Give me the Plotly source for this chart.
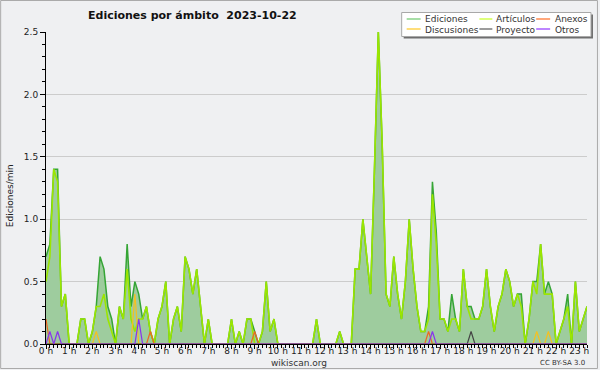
import plotly.graph_objects as go

# time of each sample, minutes after midnight (10-minute bins, 0:00 .. 23:20)
minutes = list(range(0, 1410, 10))

# edits per minute, one row per hour (6 bins)
ediciones = [
    0.7, 0.8, 1.4, 1.4, 0.3, 0.4,   # 0 h
    0.0, 0.0, 0.0, 0.2, 0.2, 0.0,   # 1 h
    0.1, 0.3, 0.7, 0.6, 0.3, 0.2,   # 2 h
    0.0, 0.3, 0.2, 0.8, 0.3, 0.5,   # 3 h
    0.4, 0.2, 0.3, 0.1, 0.0, 0.2,   # 4 h
    0.3, 0.5, 0.0, 0.2, 0.3, 0.1,   # 5 h
    0.7, 0.6, 0.4, 0.6, 0.3, 0.0,   # 6 h
    0.2, 0.0, 0.0, 0.0, 0.0, 0.0,   # 7 h
    0.2, 0.0, 0.1, 0.0, 0.2, 0.2,   # 8 h
    0.1, 0.0, 0.1, 0.5, 0.1, 0.2,   # 9 h
    0.0, 0.0, 0.0, 0.0, 0.0, 0.0,   # 10 h
    0.0, 0.0, 0.0, 0.0, 0.2, 0.0,   # 11 h
    0.0, 0.0, 0.0, 0.0, 0.1, 0.0,   # 12 h
    0.0, 0.0, 0.6, 0.6, 1.0, 0.7,   # 13 h
    0.4, 1.4, 2.5, 1.6, 0.4, 0.3,   # 14 h
    0.7, 0.4, 0.2, 0.5, 1.0, 0.6,   # 15 h
    0.3, 0.1, 0.1, 0.3, 1.3, 0.9,   # 16 h
    0.2, 0.2, 0.1, 0.4, 0.2, 0.1,   # 17 h
    0.6, 0.3, 0.3, 0.2, 0.2, 0.3,   # 18 h
    0.6, 0.3, 0.1, 0.3, 0.4, 0.6,   # 19 h
    0.5, 0.3, 0.4, 0.4, 0.0, 0.2,   # 20 h
    0.5, 0.5, 0.8, 0.4, 0.5, 0.4,   # 21 h
    0.0, 0.1, 0.2, 0.4, 0.0, 0.5,   # 22 h
    0.1, 0.2, 0.3,                  # 23 h
]

articulos = [
    0.5, 0.7, 1.4, 1.3, 0.3, 0.4,
    0.0, 0.0, 0.0, 0.2, 0.2, 0.0,
    0.1, 0.3, 0.3, 0.4, 0.2, 0.1,
    0.0, 0.3, 0.2, 0.6, 0.2, 0.1,
    0.2, 0.2, 0.3, 0.1, 0.0, 0.2,
    0.3, 0.5, 0.0, 0.2, 0.3, 0.1,
    0.7, 0.6, 0.4, 0.6, 0.3, 0.0,
    0.2, 0.0, 0.0, 0.0, 0.0, 0.0,
    0.2, 0.0, 0.1, 0.0, 0.2, 0.2,
    0.0, 0.0, 0.1, 0.5, 0.1, 0.2,
    0.0, 0.0, 0.0, 0.0, 0.0, 0.0,
    0.0, 0.0, 0.0, 0.0, 0.2, 0.0,
    0.0, 0.0, 0.0, 0.0, 0.1, 0.0,
    0.0, 0.0, 0.6, 0.6, 1.0, 0.7,
    0.4, 1.4, 2.5, 1.6, 0.4, 0.3,
    0.7, 0.4, 0.2, 0.5, 1.0, 0.6,
    0.3, 0.1, 0.1, 0.2, 1.2, 0.8,
    0.2, 0.2, 0.1, 0.2, 0.2, 0.1,
    0.6, 0.3, 0.2, 0.2, 0.2, 0.3,
    0.6, 0.3, 0.1, 0.3, 0.4, 0.6,
    0.5, 0.3, 0.4, 0.3, 0.0, 0.2,
    0.5, 0.4, 0.8, 0.4, 0.4, 0.4,
    0.0, 0.1, 0.2, 0.3, 0.0, 0.5,
    0.1, 0.2, 0.3,
]

anexos = [
    0.2, 0.0, 0.0, 0.0, 0.0, 0.0,
    0.0, 0.0, 0.0, 0.0, 0.0, 0.0,
    0.0, 0.0, 0.0, 0.0, 0.0, 0.0,
    0.0, 0.0, 0.0, 0.0, 0.0, 0.0,
    0.0, 0.0, 0.0, 0.1, 0.0, 0.0,
    0.0, 0.0, 0.0, 0.0, 0.0, 0.0,
    0.0, 0.0, 0.0, 0.0, 0.0, 0.0,
    0.0, 0.0, 0.0, 0.0, 0.0, 0.0,
    0.0, 0.0, 0.0, 0.0, 0.0, 0.0,
    0.1, 0.0, 0.0, 0.0, 0.0, 0.0,
    0.0, 0.0, 0.0, 0.0, 0.0, 0.0,
    0.0, 0.0, 0.0, 0.0, 0.0, 0.0,
    0.0, 0.0, 0.0, 0.0, 0.0, 0.0,
    0.0, 0.0, 0.0, 0.0, 0.0, 0.0,
    0.0, 0.0, 0.0, 0.0, 0.0, 0.0,
    0.0, 0.0, 0.0, 0.0, 0.0, 0.0,
    0.0, 0.0, 0.0, 0.1, 0.0, 0.0,
    0.0, 0.0, 0.0, 0.0, 0.0, 0.0,
    0.0, 0.0, 0.0, 0.0, 0.0, 0.0,
    0.0, 0.0, 0.0, 0.0, 0.0, 0.0,
    0.0, 0.0, 0.0, 0.0, 0.0, 0.0,
    0.0, 0.0, 0.0, 0.0, 0.0, 0.0,
    0.0, 0.0, 0.0, 0.0, 0.0, 0.0,
    0.0, 0.0, 0.0,
]

discusiones = [
    0.0, 0.0, 0.0, 0.0, 0.0, 0.0,
    0.0, 0.0, 0.0, 0.0, 0.0, 0.0,
    0.0, 0.1, 0.0, 0.0, 0.0, 0.0,
    0.0, 0.0, 0.0, 0.0, 0.0, 0.4,
    0.0, 0.0, 0.0, 0.0, 0.0, 0.0,
    0.0, 0.0, 0.0, 0.0, 0.0, 0.0,
    0.0, 0.0, 0.0, 0.0, 0.0, 0.0,
    0.0, 0.0, 0.0, 0.0, 0.0, 0.0,
    0.0, 0.0, 0.0, 0.0, 0.0, 0.0,
    0.0, 0.0, 0.0, 0.0, 0.0, 0.0,
    0.0, 0.0, 0.0, 0.0, 0.0, 0.0,
    0.0, 0.0, 0.0, 0.0, 0.0, 0.0,
    0.0, 0.0, 0.0, 0.0, 0.0, 0.0,
    0.0, 0.0, 0.0, 0.0, 0.0, 0.0,
    0.0, 0.0, 0.0, 0.0, 0.0, 0.0,
    0.0, 0.0, 0.0, 0.0, 0.0, 0.0,
    0.0, 0.0, 0.0, 0.0, 0.0, 0.0,
    0.0, 0.0, 0.0, 0.0, 0.0, 0.0,
    0.0, 0.0, 0.0, 0.0, 0.0, 0.0,
    0.0, 0.0, 0.0, 0.0, 0.0, 0.0,
    0.0, 0.0, 0.0, 0.0, 0.0, 0.0,
    0.0, 0.1, 0.0, 0.0, 0.1, 0.0,
    0.0, 0.0, 0.0, 0.0, 0.0, 0.0,
    0.0, 0.0, 0.0,
]

proyecto = [
    0.0, 0.0, 0.0, 0.0, 0.0, 0.0,
    0.0, 0.0, 0.0, 0.0, 0.0, 0.0,
    0.0, 0.0, 0.0, 0.0, 0.0, 0.0,
    0.0, 0.0, 0.0, 0.0, 0.0, 0.0,
    0.0, 0.0, 0.0, 0.0, 0.0, 0.0,
    0.0, 0.0, 0.0, 0.0, 0.0, 0.0,
    0.0, 0.0, 0.0, 0.0, 0.0, 0.0,
    0.0, 0.0, 0.0, 0.0, 0.0, 0.0,
    0.0, 0.0, 0.0, 0.0, 0.0, 0.0,
    0.0, 0.0, 0.0, 0.0, 0.0, 0.0,
    0.0, 0.0, 0.0, 0.0, 0.0, 0.0,
    0.0, 0.0, 0.0, 0.0, 0.0, 0.0,
    0.0, 0.0, 0.0, 0.0, 0.0, 0.0,
    0.0, 0.0, 0.0, 0.0, 0.0, 0.0,
    0.0, 0.0, 0.0, 0.0, 0.0, 0.0,
    0.0, 0.0, 0.0, 0.0, 0.0, 0.0,
    0.0, 0.0, 0.0, 0.0, 0.0, 0.0,
    0.0, 0.0, 0.0, 0.0, 0.0, 0.0,
    0.0, 0.0, 0.1, 0.0, 0.0, 0.0,
    0.0, 0.0, 0.0, 0.0, 0.0, 0.0,
    0.0, 0.0, 0.0, 0.0, 0.0, 0.0,
    0.0, 0.0, 0.0, 0.0, 0.0, 0.0,
    0.0, 0.0, 0.0, 0.0, 0.0, 0.0,
    0.0, 0.0, 0.0,
]

otros = [
    0.0, 0.1, 0.0, 0.1, 0.0, 0.0,
    0.0, 0.0, 0.0, 0.0, 0.0, 0.0,
    0.0, 0.0, 0.0, 0.0, 0.0, 0.0,
    0.0, 0.0, 0.0, 0.0, 0.0, 0.0,
    0.2, 0.0, 0.0, 0.0, 0.0, 0.0,
    0.0, 0.0, 0.0, 0.0, 0.0, 0.0,
    0.0, 0.0, 0.0, 0.0, 0.0, 0.0,
    0.0, 0.0, 0.0, 0.0, 0.0, 0.0,
    0.0, 0.0, 0.0, 0.0, 0.0, 0.0,
    0.0, 0.0, 0.0, 0.0, 0.0, 0.0,
    0.0, 0.0, 0.0, 0.0, 0.0, 0.0,
    0.0, 0.0, 0.0, 0.0, 0.0, 0.0,
    0.0, 0.0, 0.0, 0.0, 0.0, 0.0,
    0.0, 0.0, 0.0, 0.0, 0.0, 0.0,
    0.0, 0.0, 0.0, 0.0, 0.0, 0.0,
    0.0, 0.0, 0.0, 0.0, 0.0, 0.0,
    0.0, 0.0, 0.0, 0.0, 0.1, 0.0,
    0.0, 0.0, 0.0, 0.0, 0.0, 0.0,
    0.0, 0.0, 0.0, 0.0, 0.0, 0.0,
    0.0, 0.0, 0.0, 0.0, 0.0, 0.0,
    0.0, 0.0, 0.0, 0.0, 0.0, 0.0,
    0.0, 0.0, 0.0, 0.0, 0.0, 0.0,
    0.0, 0.0, 0.0, 0.0, 0.0, 0.0,
    0.0, 0.0, 0.0,
]

title_text = "Ediciones por ámbito\u00a0 2023-10-22"
y_title = "Ediciones/min"
legend_names = ["Ediciones", "Artículos", "Anexos", "Discusiones", "Proyecto", "Otros"]
legend_colors = ["#77cc77", "#ccff33", "#ff7733", "#ffcc33", "#666666", "#9944ff"]

hours = [m / 60 for m in minutes]

FONT = "DejaVu Sans"
W, H = 600, 370
L, R, T, B = 46, 589, 32, 344


def px(x):
    return (x - L) / (R - L)


def py(y):
    return (B - y) / (B - T)


fig = go.Figure()
fig.add_trace(go.Scatter(x=hours, y=ediciones, mode="lines", name="Ediciones",
                         line=dict(color="#35a535", width=1.5),
                         fill="tozeroy", fillcolor="#9ecc9e", showlegend=False))
fig.add_trace(go.Scatter(x=hours, y=articulos, mode="lines", name="Artículos",
                         line=dict(color="#9be600", width=1.6), showlegend=False))
fig.add_trace(go.Scatter(x=hours, y=anexos, mode="lines", name="Anexos",
                         line=dict(color="#ee6622", width=1.2), showlegend=False))
fig.add_trace(go.Scatter(x=hours, y=discusiones, mode="lines", name="Discusiones",
                         line=dict(color="#f5c020", width=1.2), showlegend=False))
fig.add_trace(go.Scatter(x=hours, y=proyecto, mode="lines", name="Proyecto",
                         line=dict(color="#444444", width=1.2), showlegend=False))
fig.add_trace(go.Scatter(x=hours, y=otros, mode="lines", name="Otros",
                         line=dict(color="#8833ee", width=1.2), showlegend=False))

shapes = []
# outer frame
shapes.append(dict(type="rect", xref="paper", yref="paper",
                   x0=px(0.5), x1=px(599.5), y0=py(0.5), y1=py(368.5),
                   line=dict(color="#aaaaaa", width=1), fillcolor="rgba(0,0,0,0)", layer="below"))
# legend box with shadow
shapes.append(dict(type="rect", xref="paper", yref="paper",
                   x0=px(405), x1=px(595), y0=py(14.5), y1=py(38.5),
                   line=dict(width=0), fillcolor="#6e6e6e"))
shapes.append(dict(type="rect", xref="paper", yref="paper",
                   x0=px(403), x1=px(593), y0=py(12.5), y1=py(36.5),
                   line=dict(color="#a8a8a8", width=1), fillcolor="#ffffff"))

annotations = []
col_line_x = [(408, 422), (481, 494), (538, 552)]
col_text_x = [424.5, 496, 555]
row_y = [19.5, 29.5]
for k, (name, col) in enumerate(zip(legend_names, legend_colors)):
    c = k % 3
    r = k // 3
    shapes.append(dict(type="line", xref="paper", yref="paper",
                       x0=px(col_line_x[c][0]), x1=px(col_line_x[c][1]),
                       y0=py(row_y[r] - 0.5), y1=py(row_y[r] - 0.5),
                       line=dict(color=col, width=1.3)))
    annotations.append(dict(xref="paper", yref="paper", x=px(col_text_x[c]), y=py(row_y[r]),
                            text=name, showarrow=False, xanchor="left", yanchor="middle",
                            font=dict(family=FONT, size=9, color="#333333")))

annotations.append(dict(xref="paper", yref="paper", x=px(86), y=py(16),
                        text=title_text, showarrow=False, xanchor="left", yanchor="middle",
                        font=dict(family=FONT, size=11, color="#111111", weight="bold")))
annotations.append(dict(xref="paper", yref="paper", x=px(10), y=py(196),
                        text=y_title, showarrow=False, textangle=-90,
                        xanchor="center", yanchor="middle",
                        font=dict(family=FONT, size=9, color="#222222")))
annotations.append(dict(xref="paper", yref="paper", x=px(300), y=py(362.5),
                        text="wikiscan.org", showarrow=False, xanchor="center", yanchor="middle",
                        font=dict(family=FONT, size=9, color="#333333")))
annotations.append(dict(xref="paper", yref="paper", x=px(589), y=py(363),
                        text="CC BY-SA 3.0", showarrow=False, xanchor="right", yanchor="middle",
                        font=dict(family=FONT, size=7, color="#333333")))

fig.update_layout(
    width=W, height=H,
    margin=dict(l=L, r=W - R, t=T, b=H - B, pad=0),
    paper_bgcolor="#eff0f2", plot_bgcolor="#eff0f2",
    showlegend=False,
    shapes=shapes, annotations=annotations,
    xaxis=dict(range=[0, minutes[-1] / 60], tickmode="linear", tick0=0, dtick=1,
               ticksuffix=" h", ticks="outside", ticklen=4, tickcolor="#000000",
               ticklabelstandoff=-6,
               showline=True, linecolor="#000000", linewidth=1,
               showgrid=False, zeroline=False, layer="above traces",
               tickfont=dict(family=FONT, size=9, color="#222222"),
               minor=dict(tickmode="linear", tick0=0, dtick=1 / 6, ticks="outside",
                          ticklen=3, tickcolor="#000000", showgrid=False)),
    yaxis=dict(range=[0, 2.5], tickmode="linear", tick0=0, dtick=0.5, tickformat=".1f",
               ticks="outside", ticklen=5, tickcolor="#000000",
               showline=True, linecolor="#000000", linewidth=1,
               showgrid=True, gridcolor="#cccccc", gridwidth=1,
               zeroline=False, layer="above traces",
               tickfont=dict(family=FONT, size=9, color="#222222"),
               minor=dict(tickmode="linear", tick0=0, dtick=0.1, ticks="outside",
                          ticklen=3, tickcolor="#000000", showgrid=False)),
)

fig.write_html("out.html", config={"displayModeBar": False},
               post_script="document.body.style.margin='0';document.body.style.overflow='hidden';")
